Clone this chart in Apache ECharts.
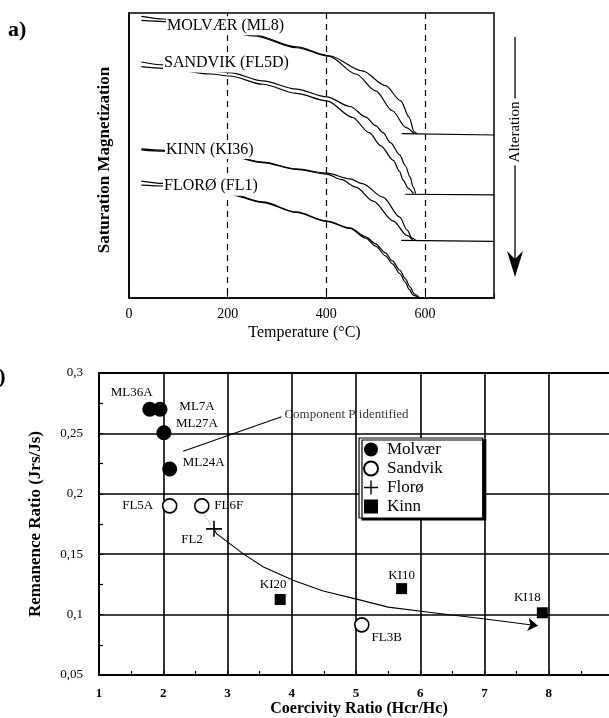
<!DOCTYPE html>
<html>
<head>
<meta charset="utf-8">
<script src="https://cdn.jsdelivr.net/npm/echarts@6/dist/echarts.min.js"></script>
<style>
  html, body { margin: 0; padding: 0; background: #fff; }
  #main { width: 609px; height: 718px; }
</style>
</head>
<body>
<div id="main"></div>
<script>
// ---- panel a: thermomagnetic curves (temperature, relative Js) ----
var molvaerOuter = [[25, 98.8], [70, 97.9], [150, 95.6], [253, 92.3], [339, 88.1], [406, 85.0], [473, 79.7], [520, 74.5], [551, 69.2], [568, 63.4], [578, 58.3], [584, 57.6]];
var molvaerInner = [[25, 97.4], [70, 97.0], [150, 95.1], [253, 92.0], [339, 87.8], [406, 84.8], [460, 78.6], [500, 72.7], [534, 65.7], [561, 59.9], [578, 57.6]];
var molvaerTail = [[553, 57.7], [740, 57.2]];

var sandvikUpper = [[25, 82.8], [70, 81.8], [166, 79.6], [204, 79.1], [271, 76.2], [339, 73.3], [401, 70.6], [448, 67.2], [480, 63.5], [500, 60.5], [515, 58.0], [530, 54.5], [549, 50.2], [560, 46.5], [570, 42.4], [576, 39.0], [581, 36.6]];
var sandvikLower = [[25, 81.2], [70, 80.6], [166, 78.6], [204, 77.9], [271, 75.0], [339, 71.8], [401, 69.2], [453, 63.4], [487, 58.0], [510, 53.5], [536, 48.3], [548, 44.5], [556, 41.3], [566, 38.5], [577, 36.6]];
var sandvikTail = [[560, 36.4], [740, 36.2]];

var kinnOuter = [[25, 52.3], [70, 51.8], [150, 50.6], [204, 50.0], [271, 47.7], [339, 45.3], [401, 43.8], [448, 41.8], [473, 40.1], [515, 35.4], [549, 28.4], [564, 23.8], [574, 21.0], [581, 20.3]];
var kinnInner = [[25, 52.0], [70, 51.5], [150, 50.4], [204, 49.8], [271, 47.5], [339, 45.1], [401, 43.5], [430, 41.6], [460, 38.9], [495, 34.0], [536, 27.0], [563, 22.0], [575, 20.4]];
var kinnTail = [[552, 20.2], [740, 19.9]];

var floroOuter = [[25, 41.0], [70, 40.2], [150, 38.0], [204, 36.6], [271, 33.7], [339, 30.2], [401, 27.0], [448, 24.6], [480, 21.5], [500, 19.0], [520, 15.8], [534, 13.0], [549, 9.8], [560, 6.8], [570, 3.8], [578, 1.5], [588, 0.3]];
var floroInner = [[25, 39.6], [70, 39.3], [150, 37.5], [204, 36.3], [271, 33.5], [339, 30.0], [401, 26.9], [448, 24.4], [480, 21.0], [500, 18.2], [520, 14.8], [534, 12.0], [549, 8.6], [560, 5.6], [568, 3.0], [576, 1.0], [586, 0.2]];

var curveNames = ['MOLVÆR (ML8)', 'SANDVIK (FL5D)', 'KINN (KI36)', 'FLORØ (FL1)'];
var curveLabelAt = [[75, 95.5], [69, 82.5], [73, 52.1], [69, 39.2]];
var tempTicks = [0, 200, 400, 600];

// ---- panel b: Hcr/Hc against Jrs/Js ----
var molvaerNames = ['ML36A', 'ML7A', 'ML27A', 'ML24A'];
var molvaerPts = [[1.79, 0.27], [1.95, 0.27], [2.01, 0.2505], [2.10, 0.2205]];
var sandvikNames = ['FL5A', 'FL6F', 'FL3B'];
var sandvikPts = [[2.10, 0.19], [2.60, 0.19], [5.09, 0.0915]];
var floroNames = ['FL2'];
var floroPts = [[2.79, 0.171]];
var kinnNames = ['KI20', 'KI10', 'KI18'];
var kinnPts = [[3.82, 0.1125], [5.71, 0.1215], [7.90, 0.1015]];

var trendPath = [[2.78, 0.172], [2.83, 0.167], [3.24, 0.1505], [3.56, 0.1394], [4.02, 0.1284], [4.49, 0.1195], [5.01, 0.1128], [5.50, 0.1062], [6.20, 0.1015], [6.98, 0.0966]];
var trendHead = [[6.98, 0.0966], [7.83, 0.0908]];
var faintPath = [[2.62, 0.184], [2.76, 0.173]];
var pointerPath = [[2.31, 0.2353], [3.84, 0.2638]];
var pointerText = 'Component P identified';
var pointerTextAt = [3.87, 0.2655];

var serif = 'Liberation Serif';
var myChart = echarts.init(document.getElementById('main'));

// label placement around markers (pixel offsets from the marker centre)
var labelOffset = {
    ML36A: [-18, -17], ML7A: [37, -3], ML27A: [33, -9], ML24A: [34, -6],
    FL5A: [-32, 0], FL6F: [27, 0], FL3B: [25, 13], FL2: [-22, 11],
    KI20: [-7, -15], KI10: [0, -13], KI18: [-15, -15]
};

function pointData(names, pts) {
    return pts.map(function (p, i) {
        return {
            name: names[i],
            value: p,
            label: {
                show: true,
                position: 'inside',
                offset: labelOffset[names[i]],
                formatter: names[i],
                color: '#000',
                fontFamily: serif,
                fontSize: 13
            }
        };
    });
}

function curve(data) {
    return {
        type: 'line',
        xAxisIndex: 0,
        yAxisIndex: 0,
        data: data,
        showSymbol: false,
        smooth: 0.3,
        smoothMonotone: 'x',
        lineStyle: { color: '#000', width: 1.2 },
        silent: true,
        z: 2
    };
}

function segLines(coords, poly, style, sym) {
    return {
        type: 'lines',
        coordinateSystem: 'cartesian2d',
        xAxisIndex: 1,
        yAxisIndex: 1,
        polyline: poly,
        silent: true,
        symbol: sym || ['none', 'none'],
        symbolSize: 10,
        lineStyle: style,
        data: [{ coords: coords }],
        z: 3
    };
}

var staticGraphic = [
    { id: 'ta', type: 'text', x: 8, y: 19, style: { text: 'a)', font: 'bold 22px "Liberation Serif"', fill: '#000' } },
    { id: 'tb', type: 'text', x: -14, y: 366, style: { text: 'b)', font: 'bold 22px "Liberation Serif"', fill: '#000' } },
    { id: 'al', type: 'line', shape: { x1: 515, y1: 37, x2: 515, y2: 262 }, style: { stroke: '#000', lineWidth: 1.3 } },
    { id: 'ah', type: 'polygon', shape: { points: [[515, 277], [507, 251], [515, 259], [523, 251]] }, style: { fill: '#000' } },
    {
        id: 'at', type: 'text', x: 515, y: 132, rotation: Math.PI / 2, z: 100,
        style: {
            text: 'Alteration', align: 'center', verticalAlign: 'middle',
            font: '15px "Liberation Serif"', fill: '#000', backgroundColor: '#fff', padding: [2, 3]
        }
    }
];

var option = {
    animation: false,
    backgroundColor: '#fff',
    textStyle: { fontFamily: serif },
    grid: [{
        left: 129, width: 365, top: 13, height: 285,
        outerBoundsMode: 'none',
        show: true, borderColor: '#000', borderWidth: 1.5
    }, {
        left: 99, width: 514, top: 373, height: 302,
        outerBoundsMode: 'none',
        show: true, borderColor: '#000', borderWidth: 2
    }],
    xAxis: [{
        gridIndex: 0,
        type: 'value',
        min: 0, max: 740, interval: 200,
        name: 'Temperature (°C)',
        nameLocation: 'middle',
        nameGap: 27,
        nameTextStyle: { color: '#000', fontFamily: serif, fontSize: 16, padding: [0, 14, 0, 0] },
        axisLine: { lineStyle: { color: '#000', width: 1.5 } },
        axisTick: { inside: true, length: 4, lineStyle: { color: '#000' } },
        axisLabel: {
            color: '#000', fontFamily: serif, fontSize: 14, margin: 9,
            formatter: function (v) { return tempTicks.indexOf(v) >= 0 ? String(v) : ''; }
        },
        splitLine: {
            show: true, showMinLine: false, showMaxLine: false,
            lineStyle: { color: '#000', type: [6, 5], width: 1.2 }
        }
    }, {
        gridIndex: 1,
        type: 'value',
        min: 1, max: 9, interval: 1,
        name: 'Coercivity Ratio (Hcr/Hc)',
        nameLocation: 'middle',
        nameGap: 25,
        nameTextStyle: { color: '#000', fontFamily: serif, fontSize: 16, fontWeight: 'bold', padding: [0, 0, 0, 6] },
        axisLine: { lineStyle: { color: '#000', width: 2 } },
        axisTick: { inside: true, length: 4, lineStyle: { color: '#000' } },
        minorTick: { show: true, splitNumber: 2, length: 4, lineStyle: { color: '#000', width: 1.2 } },
        axisLabel: {
            color: '#000', fontFamily: serif, fontSize: 13, fontWeight: 'bold', margin: 12,
            formatter: function (v) { return v < 9 ? String(v) : ''; }
        },
        splitLine: { show: true, lineStyle: { color: '#000', width: 1.6 } }
    }],
    yAxis: [{
        gridIndex: 0,
        type: 'value',
        min: 0, max: 100,
        name: 'Saturation Magnetization',
        nameLocation: 'middle',
        nameGap: 16,
        nameTextStyle: { color: '#000', fontFamily: serif, fontSize: 17, fontWeight: 'bold', padding: [0, 9, 0, 0] },
        axisLine: { lineStyle: { color: '#000', width: 1.5 } },
        axisTick: { show: false },
        axisLabel: { show: false },
        splitLine: { show: false }
    }, {
        gridIndex: 1,
        type: 'value',
        min: 0.05, max: 0.3, interval: 0.05,
        name: 'Remanence Ratio (Jrs/Js)',
        nameLocation: 'middle',
        nameGap: 55,
        nameTextStyle: { color: '#000', fontFamily: serif, fontSize: 17, fontWeight: 'bold' },
        axisLine: { lineStyle: { color: '#000', width: 2 } },
        axisTick: { inside: true, length: 4, lineStyle: { color: '#000' } },
        minorTick: { show: true, splitNumber: 2, length: 4, lineStyle: { color: '#000', width: 1.2 } },
        axisLabel: {
            color: '#000', fontFamily: serif, fontSize: 13, margin: 16,
            formatter: function (v) { return String(Math.round(v * 100) / 100).replace('.', ','); }
        },
        splitLine: { show: true, lineStyle: { color: '#000', width: 1.6 } }
    }],
    legend: {
        data: ['Molvær', 'Sandvik', 'Florø', 'Kinn'],
        orient: 'vertical',
        left: 359,
        top: 438,
        itemWidth: 14,
        itemHeight: 14,
        itemGap: 2,
        padding: [3, 40, 3, 4],
        backgroundColor: '#fff',
        borderColor: '#000',
        borderWidth: 1.2,
        shadowColor: '#000',
        shadowBlur: 0,
        shadowOffsetX: 3,
        shadowOffsetY: 2,
        textStyle: { color: '#000', fontFamily: serif, fontSize: 17, lineHeight: 16, padding: [0, 0, 0, 4] }
    },
    graphic: staticGraphic,
    series: [
        curve(molvaerOuter), curve(molvaerInner), curve(molvaerTail),
        curve(sandvikUpper), curve(sandvikLower), curve(sandvikTail),
        curve(kinnOuter), curve(kinnInner), curve(kinnTail),
        curve(floroOuter), curve(floroInner),
        segLines(trendPath, true, { color: '#000', width: 1.1, opacity: 1 }),
        segLines(trendHead, false, { color: '#000', width: 1.1, opacity: 1 }, ['none', 'arrow']),
        segLines(pointerPath, false, { color: '#000', width: 1.1, opacity: 1 }),
        segLines(faintPath, false, { color: '#999', width: 1, type: 'dotted', opacity: 1 }),
        {
            type: 'scatter',
            xAxisIndex: 1,
            yAxisIndex: 1,
            symbolSize: 0,
            silent: true,
            data: [{ name: pointerText, value: pointerTextAt }],
            label: { show: true, position: 'right', distance: 1, formatter: '{b}', color: '#000', fontFamily: serif, fontSize: 13 },
            z: 4
        },
        {
            name: 'Molvær', type: 'scatter', xAxisIndex: 1, yAxisIndex: 1,
            symbol: 'circle', symbolSize: 15,
            itemStyle: { color: '#000', opacity: 1 },
            data: pointData(molvaerNames, molvaerPts), z: 6
        },
        {
            name: 'Sandvik', type: 'scatter', xAxisIndex: 1, yAxisIndex: 1,
            symbol: 'circle', symbolSize: 14,
            itemStyle: { color: '#fff', borderColor: '#000', borderWidth: 1.6, opacity: 1 },
            data: pointData(sandvikNames, sandvikPts), z: 6
        },
        {
            name: 'Florø', type: 'scatter', xAxisIndex: 1, yAxisIndex: 1,
            symbol: 'path://M6.3,0 H7.7 V14 H6.3 Z M0,6.3 H14 V7.7 H0 Z', symbolSize: 16,
            itemStyle: { color: '#000', opacity: 1 },
            data: pointData(floroNames, floroPts), z: 6
        },
        {
            name: 'Kinn', type: 'scatter', xAxisIndex: 1, yAxisIndex: 1,
            symbol: 'rect', symbolSize: 11,
            itemStyle: { color: '#000', opacity: 1 },
            data: pointData(kinnNames, kinnPts), z: 6
        }
    ]
};
myChart.setOption(option);

// curve names sit on white boxes that hide the start of each curve
var curveLabels = curveLabelAt.map(function (p, i) {
    var px = myChart.convertToPixel({ xAxisIndex: 0, yAxisIndex: 0 }, p);
    return {
        id: 'cl' + i, type: 'text', x: px[0], y: px[1], z: 100,
        style: {
            text: curveNames[i], align: 'left', verticalAlign: 'middle',
            font: '16px "Liberation Serif"', fill: '#000',
            backgroundColor: '#fff', padding: [2, 2, 1, 1]
        }
    };
});
myChart.setOption({ graphic: staticGraphic.concat(curveLabels) });
</script>
</body>
</html>
